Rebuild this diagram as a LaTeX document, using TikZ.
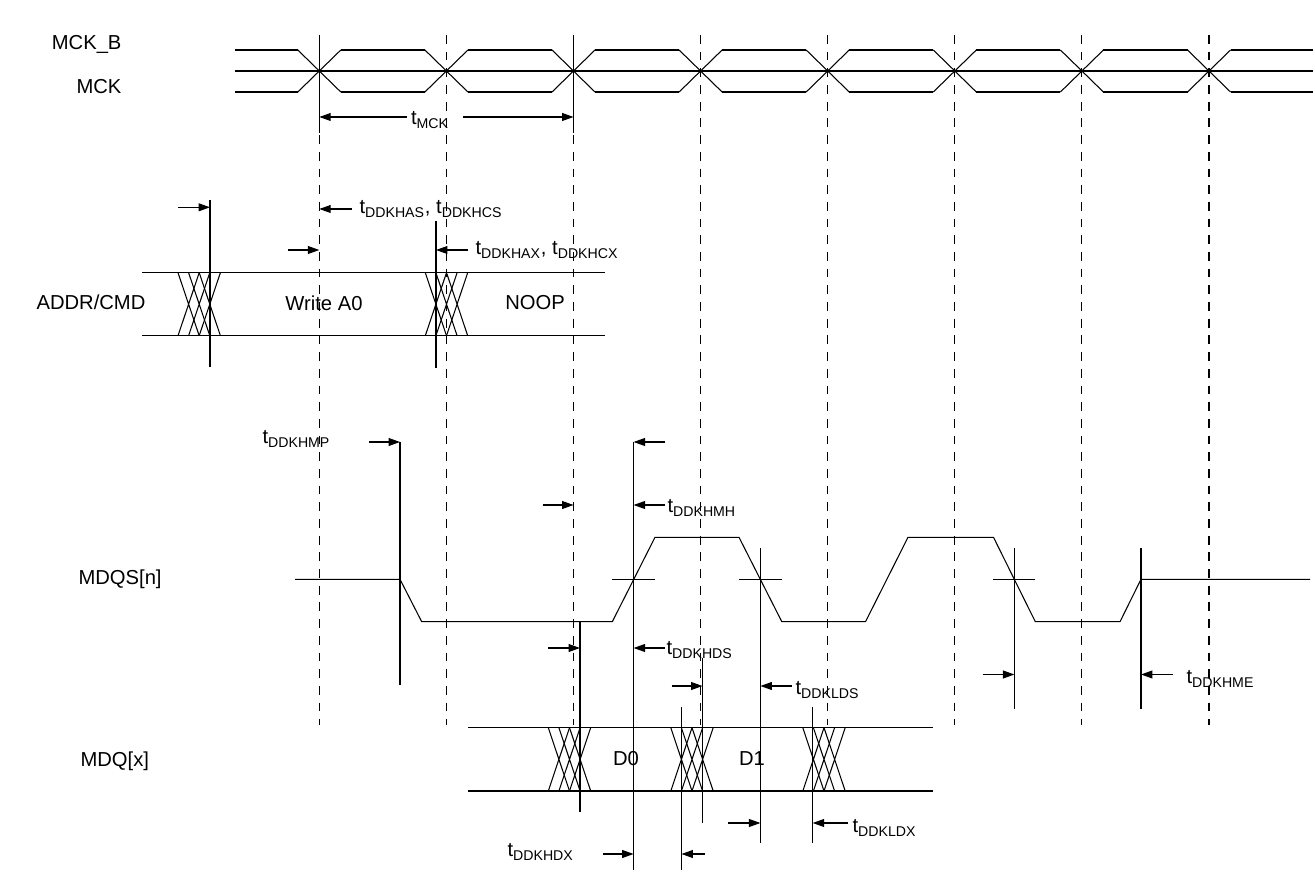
\documentclass[tikz,border=0pt]{standalone}
\usepackage{fontspec}
\setmainfont{Liberation Sans}
\usetikzlibrary{arrows.meta}

% three overlapping crossings of a bus: centre x, top y, bottom y
\newcommand{\xzone}[3]{%
  \foreach \sh in {-10.6,0,10.6}
    \draw ({#1+\sh-10.6},#2) -- ({#1+\sh+10.6},#3) ({#1+\sh-10.6},#3) -- ({#1+\sh+10.6},#2);}

\begin{document}
\begin{tikzpicture}[x=0.02cm,y=-0.02cm,line width=0.6pt,
    every node/.style={font=\fontsize{11.5}{14}\selectfont,inner sep=0pt},
    tarr/.style={-{Triangle[length=6.5pt,width=4.5pt]}},
    grid/.style={dash pattern=on 5pt off 4.5pt}]
  \useasboundingbox (0,0) rectangle (1315,878);

  % clock edges and grid
  \foreach \k in {0,...,7} {
    \pgfmathsetmacro{\e}{319.3+127.1*\k}
    \draw[grid] (\e,35) -- (\e,725);
    \draw (\e-21.5,50) -- (\e+21.5,92) (\e-21.5,92) -- (\e+21.5,50);
  }
  \foreach \k in {0,...,6} {
    \pgfmathsetmacro{\e}{319.3+127.1*\k}
    \draw (\e+21.5,50) -- (\e+105.6,50) (\e+21.5,92) -- (\e+105.6,92);
  }
  \draw (235,50) -- (297.8,50) (235,92) -- (297.8,92);
  \draw (1230.5,50) -- (1313,50) (1230.5,92) -- (1313,92);
  \draw (235,71) -- (1313,71);
  \node[anchor=east] (mckb) at (122,44) {MCK\_B};
  \node[anchor=east] (mck) at (122,87) {MCK};

  % clock period
  \draw (319.3,35) -- (319.3,133) (573.5,35) -- (573.5,133);
  \draw[tarr] (407,117) -- (319.3,117);
  \draw[tarr] (463,117) -- (573.5,117);
  \node[anchor=west] (tmck) at (410.5,120) {t\textsubscript{MCK}};

  % address / command bus
  \node[anchor=west] (addr) at (36,302) {ADDR/CMD};
  \draw (142,272.7) -- (605,272.7) (142,335.7) -- (605,335.7);
  \xzone{199.2}{272.7}{335.7}
  \xzone{446.5}{272.7}{335.7}
  \node (wra0) at (324,303) {Write A0};
  \node (noop) at (535,303) {NOOP};
  \draw (210,200) -- (210,367) (436,221) -- (436,368);
  \draw[tarr] (178,207.3) -- (210,207.3);
  \draw[tarr] (351.7,209) -- (319.3,209);
  \node[anchor=west] (thas) at (359,209) {t\textsubscript{DDKHAS}, t\textsubscript{DDKHCS}};
  \draw[tarr] (288,250) -- (319.3,250);
  \draw[tarr] (468,250) -- (436,250);
  \node[anchor=west] (thax) at (475,250) {t\textsubscript{DDKHAX}, t\textsubscript{DDKHCX}};

  % data strobe
  \node[anchor=west] (mdqs) at (78,579) {MDQS[n]};
  \draw (295,579.3) -- (400,579.3) -- (421.7,621.7) -- (612.3,621.7) -- (655,537.3)
    -- (739,537.3) -- (781.8,621.7) -- (865.5,621.7) -- (908,537.3) -- (993.5,537.3)
    -- (1035.3,621.7) -- (1120,621.7) -- (1141,579.3) -- (1310,579.3);
  \draw (612,579.3) -- (655,579.3) (739,579.3) -- (782,579.3) (993,579.3) -- (1035,579.3);
  \draw (400,442) -- (400,685);
  \draw (633.6,442) -- (633.6,870);
  \draw (580,621.7) -- (580,812);
  \draw (702.5,658) -- (702.5,823);
  \draw (760.4,548) -- (760.4,843);
  \draw (681.5,706.7) -- (681.5,870);
  \draw (812.7,706.7) -- (812.7,843);
  \draw (1014.4,548) -- (1014.4,709);
  \draw (1141,548) -- (1141,709);

  \node[anchor=west] (thmp) at (262,439) {t\textsubscript{DDKHMP}};
  \draw[tarr] (369,442) -- (400,442);
  \draw[tarr] (665,442) -- (633.6,442);
  \draw[tarr] (542.7,505) -- (573.5,505);
  \draw[tarr] (665,505) -- (633.6,505);
  \node[anchor=west] (thmh) at (667,508) {t\textsubscript{DDKHMH}};
  \draw[tarr] (548,648) -- (580,648);
  \draw[tarr] (665,648) -- (633.6,648);
  \node[anchor=west] (thds) at (666,650) {t\textsubscript{DDKHDS}};
  \draw[tarr] (671.7,686) -- (702.5,686);
  \draw[tarr] (791.7,686) -- (760.4,686);
  \node[anchor=west] (tlds) at (795,690) {t\textsubscript{DDKLDS}};
  \draw[tarr] (982.5,674.5) -- (1014.4,674.5);
  \draw[tarr] (1172.7,674.5) -- (1141,674.5);
  \node[anchor=west] (thme) at (1186,679) {t\textsubscript{DDKHME}};

  % data bus
  \node[anchor=west] (mdq) at (80,761) {MDQ[x]};
  \draw (468,727.7) -- (933,727.7) (468,791) -- (933,791);
  \xzone{569.5}{727.7}{791}
  \xzone{692}{727.7}{791}
  \xzone{824}{727.7}{791}
  \node (dzero) at (626,759) {D0};
  \node (done) at (752,759) {D1};
  \draw[tarr] (728,823) -- (760.4,823);
  \draw[tarr] (848,823) -- (812.7,823);
  \node[anchor=west] (tldx) at (852,828) {t\textsubscript{DDKLDX}};
  \draw[tarr] (603,854) -- (633.6,854);
  \draw[tarr] (705,854) -- (681.5,854);
  \node[anchor=west] (thdx) at (507,852) {t\textsubscript{DDKHDX}};
\end{tikzpicture}
\end{document}
